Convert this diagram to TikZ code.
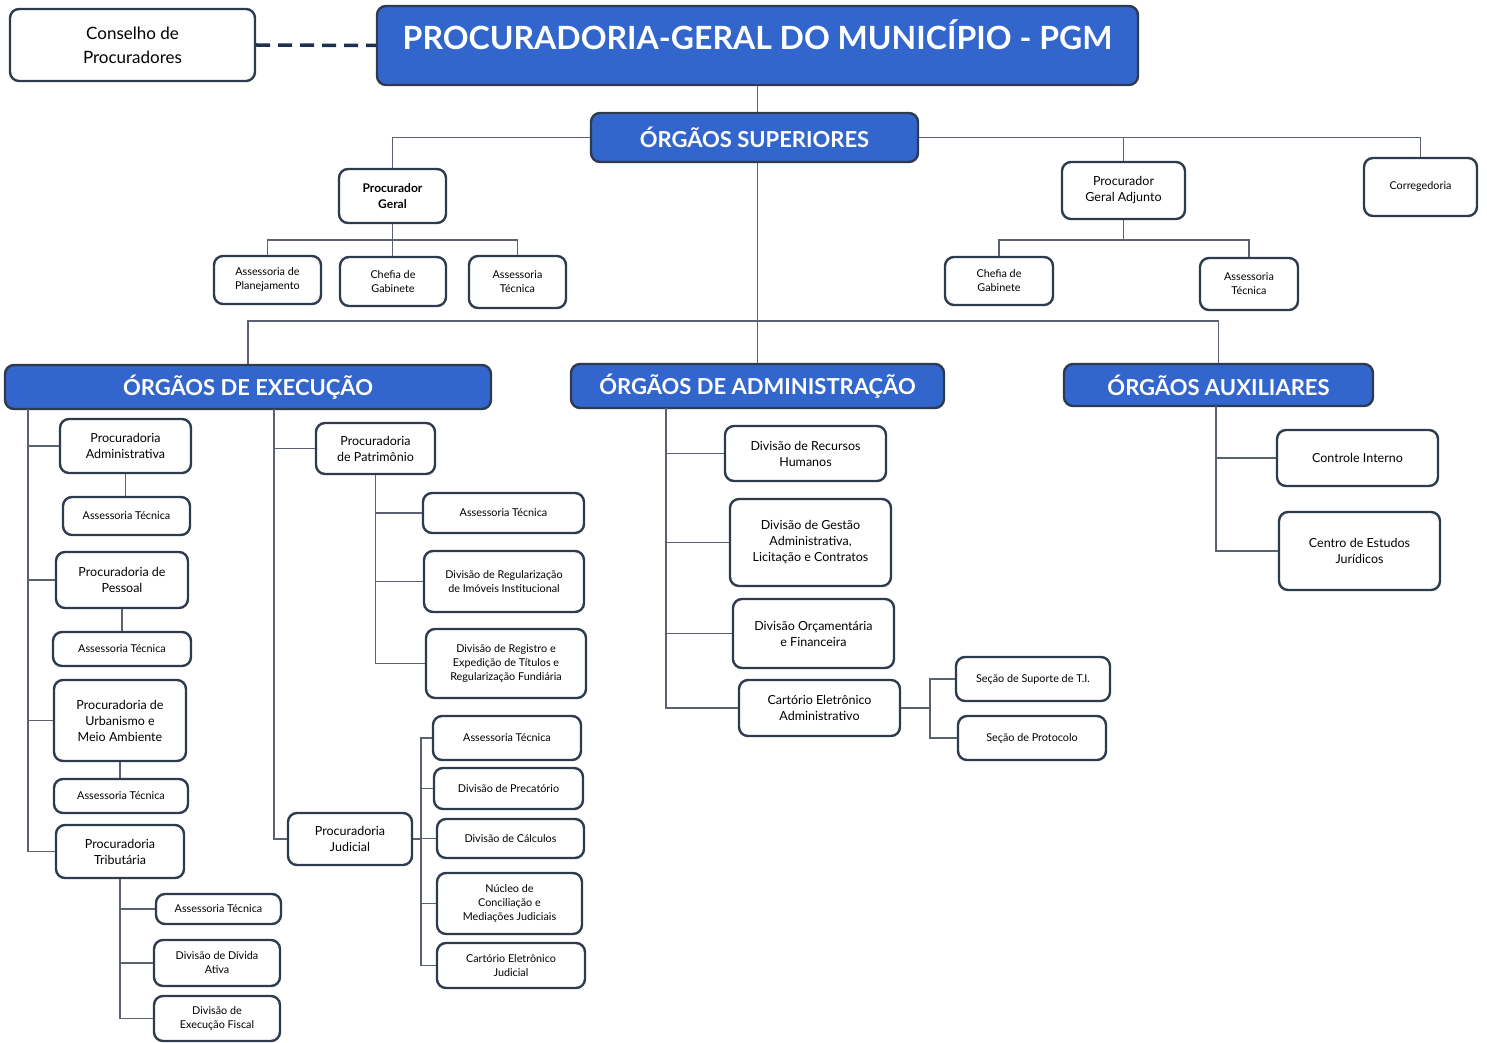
\documentclass[tikz,border=0pt]{standalone}
\usepackage{fontspec}
\setmainfont{Lato}
\usetikzlibrary{calc}
\definecolor{azul}{HTML}{3366CC}
\definecolor{borda}{HTML}{2E3A4E}
\definecolor{linha}{HTML}{5A6272}
\definecolor{marinho}{HTML}{1F2F4F}
\tikzset{
  caixa/.style={draw=borda, line width=2.4pt, rounded corners=9pt, fill=white, align=center, inner sep=0pt},
  orgao/.style={caixa, fill=azul, text=white, font=\bfseries\fontsize{22}{24}\selectfont},
  pq/.style={caixa, font=\fontsize{10.8}{14}\selectfont},
  md/.style={caixa, font=\fontsize{12.5}{16}\selectfont},
  tam/.style 2 args={minimum width=#1pt, minimum height=#2pt},
  liga/.style={draw=linha, line width=1.4pt},
}
\begin{document}
\begin{tikzpicture}[x=1pt,y=-1pt]
\useasboundingbox (0,0) rectangle (1487,1043);
\node[caixa,tam={245}{72},font=\fontsize{17}{24}\selectfont] (conselho) at (132.5,45) {Conselho de\\Procuradores};
\node[orgao,tam={761}{79},font=\bfseries\fontsize{32}{34}\selectfont,text height=23pt,text depth=15pt] (pgm) at (757.5,45.5) {PROCURADORIA-GERAL DO MUNICÍPIO - PGM};
\node[orgao,tam={327}{49}] (sup) at (754.5,137.5) {ÓRGÃOS SUPERIORES};
\node[md,tam={107}{54},font=\bfseries\fontsize{12}{16}\selectfont] (pg) at (392.5,196) {Procurador\\Geral};
\node[pq,tam={107}{48}] (ap) at (267.5,280) {Assessoria de\\Planejamento};
\node[pq,tam={106}{49}] (cg) at (393,281.5) {Chefia de\\Gabinete};
\node[pq,tam={97}{52}] (at) at (517.5,282) {Assessoria\\Técnica};
\node[md,tam={123}{57}] (pga) at (1123.5,190.5) {Procurador\\Geral Adjunto};
\node[pq,tam={113}{58}] (cor) at (1420.5,187) {Corregedoria};
\node[pq,tam={108}{48}] (cgb) at (999,281) {Chefia de\\Gabinete};
\node[pq,tam={98}{52}] (atb) at (1249,284) {Assessoria\\Técnica};
\node[orgao,tam={486}{44}] (exec) at (248,387) {ÓRGÃOS DE EXECUÇÃO};
\node[orgao,tam={373}{44}] (adm) at (757.5,386) {ÓRGÃOS DE ADMINISTRAÇÃO};
\node[orgao,tam={309}{42}] (aux) at (1218.5,385) {ÓRGÃOS AUXILIARES};
\node[md,tam={131}{54}] (padm) at (125.5,446) {Procuradoria\\Administrativa};
\node[pq,tam={127}{38}] (ata) at (126.5,516) {Assessoria Técnica};
\node[md,tam={132}{56}] (ppes) at (122,580) {Procuradoria de\\Pessoal};
\node[pq,tam={138}{34}] (atp) at (122,649) {Assessoria Técnica};
\node[md,tam={132}{81}] (purb) at (120,720.5) {Procuradoria de\\Urbanismo e\\Meio Ambiente};
\node[pq,tam={134}{34}] (atu) at (121,796) {Assessoria Técnica};
\node[md,tam={128}{53}] (ptri) at (120,851.5) {Procuradoria\\Tributária};
\node[pq,tam={125}{30}] (att) at (218.5,909) {Assessoria Técnica};
\node[pq,tam={126}{46}] (dda) at (217,963) {Divisão de Dívida\\Ativa};
\node[pq,tam={126}{45}] (def) at (217,1018.5) {Divisão de\\Execução Fiscal};
\node[md,tam={119}{51}] (ppat) at (375.5,448.5) {Procuradoria\\de Patrimônio};
\node[pq,tam={161}{40}] (atpt) at (503.5,513) {Assessoria Técnica};
\node[pq,tam={160}{61}] (dri) at (504,581.5) {Divisão de Regularização\\de Imóveis Institucional};
\node[pq,tam={160}{69}] (drt) at (506,663.5) {Divisão de Registro e\\Expedição de Títulos e\\Regularização Fundiária};
\node[md,tam={124}{52}] (pjud) at (350,839) {Procuradoria\\Judicial};
\node[pq,tam={148}{44}] (atj) at (507,738) {Assessoria Técnica};
\node[pq,tam={149}{41}] (dpre) at (508.5,788.5) {Divisão de Precatório};
\node[pq,tam={147}{39}] (dcal) at (510.5,838.5) {Divisão de Cálculos};
\node[pq,tam={145}{61}] (ncm) at (509.5,903.5) {Núcleo de\\Conciliação e\\Mediações Judiciais};
\node[pq,tam={148}{45}] (cej) at (511,965.5) {Cartório Eletrônico\\Judicial};
\node[md,tam={161}{55}] (drh) at (805.5,453.5) {Divisão de Recursos\\Humanos};
\node[md,tam={161}{87}] (dga) at (810.5,542.5) {Divisão de Gestão\\Administrativa,\\Licitação e Contratos};
\node[md,tam={161}{69}] (dof) at (813.5,633.5) {Divisão Orçamentária\\e Financeira};
\node[md,tam={161}{56}] (cea) at (819.5,708) {Cartório Eletrônico\\Administrativo};
\node[pq,tam={154}{44}] (sti) at (1033,679) {Seção de Suporte de T.I.};
\node[pq,tam={148}{44}] (spr) at (1032,738) {Seção de Protocolo};
\node[md,tam={161}{56}] (ci) at (1357.5,458) {Controle Interno};
\node[md,tam={161}{78}] (ceju) at (1359.5,551) {Centro de Estudos\\Jurídicos};

\coordinate (barPG) at (392.5,240);
\coordinate (barPA) at (1123.5,240);
\coordinate (barO) at (757,321);
\coordinate (tA) at (28,409);
\coordinate (tB) at (274,409);
\coordinate (tC) at (666,408);
\coordinate (tD) at (930,708);
\coordinate (tE) at (1216,406);
\coordinate (tJ) at (421,839);

\draw[marinho,line width=3.5pt,dash pattern=on 14pt off 8pt] (conselho.east) -- (pgm.west);
\draw[liga] (pgm.south) -- (pgm.south |- sup.north);
\draw[liga] (sup.west) -| (pg.north);
\draw[liga] (sup.east) -| (pga.north);
\draw[liga] (sup.east) -| (cor.north);
\draw[liga] (pg.south) -- (barPG) -| (ap.north);
\draw[liga] (barPG) -| (at.north);
\draw[liga] (barPG) -- (barPG |- cg.north);
\draw[liga] (pga.south) -- (barPA) -| (cgb.north);
\draw[liga] (barPA) -| (atb.north);
\draw[liga] (adm.north |- sup.south) -- (adm.north);
\draw[liga] (barO) -| (exec.north);
\draw[liga] (barO) -| (aux.north);

\draw[liga] (tA) |- (padm.west);
\draw[liga] (tA) |- (ppes.west);
\draw[liga] (tA) |- (purb.west);
\draw[liga] (tA) |- (ptri.west);
\draw[liga] (padm.south) -- (padm.south |- ata.north);
\draw[liga] (ppes.south) -- (ppes.south |- atp.north);
\draw[liga] (purb.south) -- (purb.south |- atu.north);
\draw[liga] (ptri.south) |- (att.west);
\draw[liga] (ptri.south) |- (dda.west);
\draw[liga] (ptri.south) |- (def.west);

\draw[liga] (tB) |- (ppat.west);
\draw[liga] (tB) |- (pjud.west);
\draw[liga] (ppat.south) |- (atpt.west);
\draw[liga] (ppat.south) |- (dri.west);
\draw[liga] (ppat.south) |- (drt.west);
\draw[liga] (pjud.east) -- (tJ);
\draw[liga] (tJ) |- (atj.west);
\draw[liga] (tJ) |- (dpre.west);
\draw[liga] (tJ) |- (dcal.west);
\draw[liga] (tJ) |- (ncm.west);
\draw[liga] (tJ) |- (cej.west);

\draw[liga] (tC) |- (drh.west);
\draw[liga] (tC) |- (dga.west);
\draw[liga] (tC) |- (dof.west);
\draw[liga] (tC) |- (cea.west);
\draw[liga] (cea.east) -- (tD);
\draw[liga] (tD) |- (sti.west);
\draw[liga] (tD) |- (spr.west);

\draw[liga] (tE) |- (ci.west);
\draw[liga] (tE) |- (ceju.west);
\end{tikzpicture}
\end{document}
